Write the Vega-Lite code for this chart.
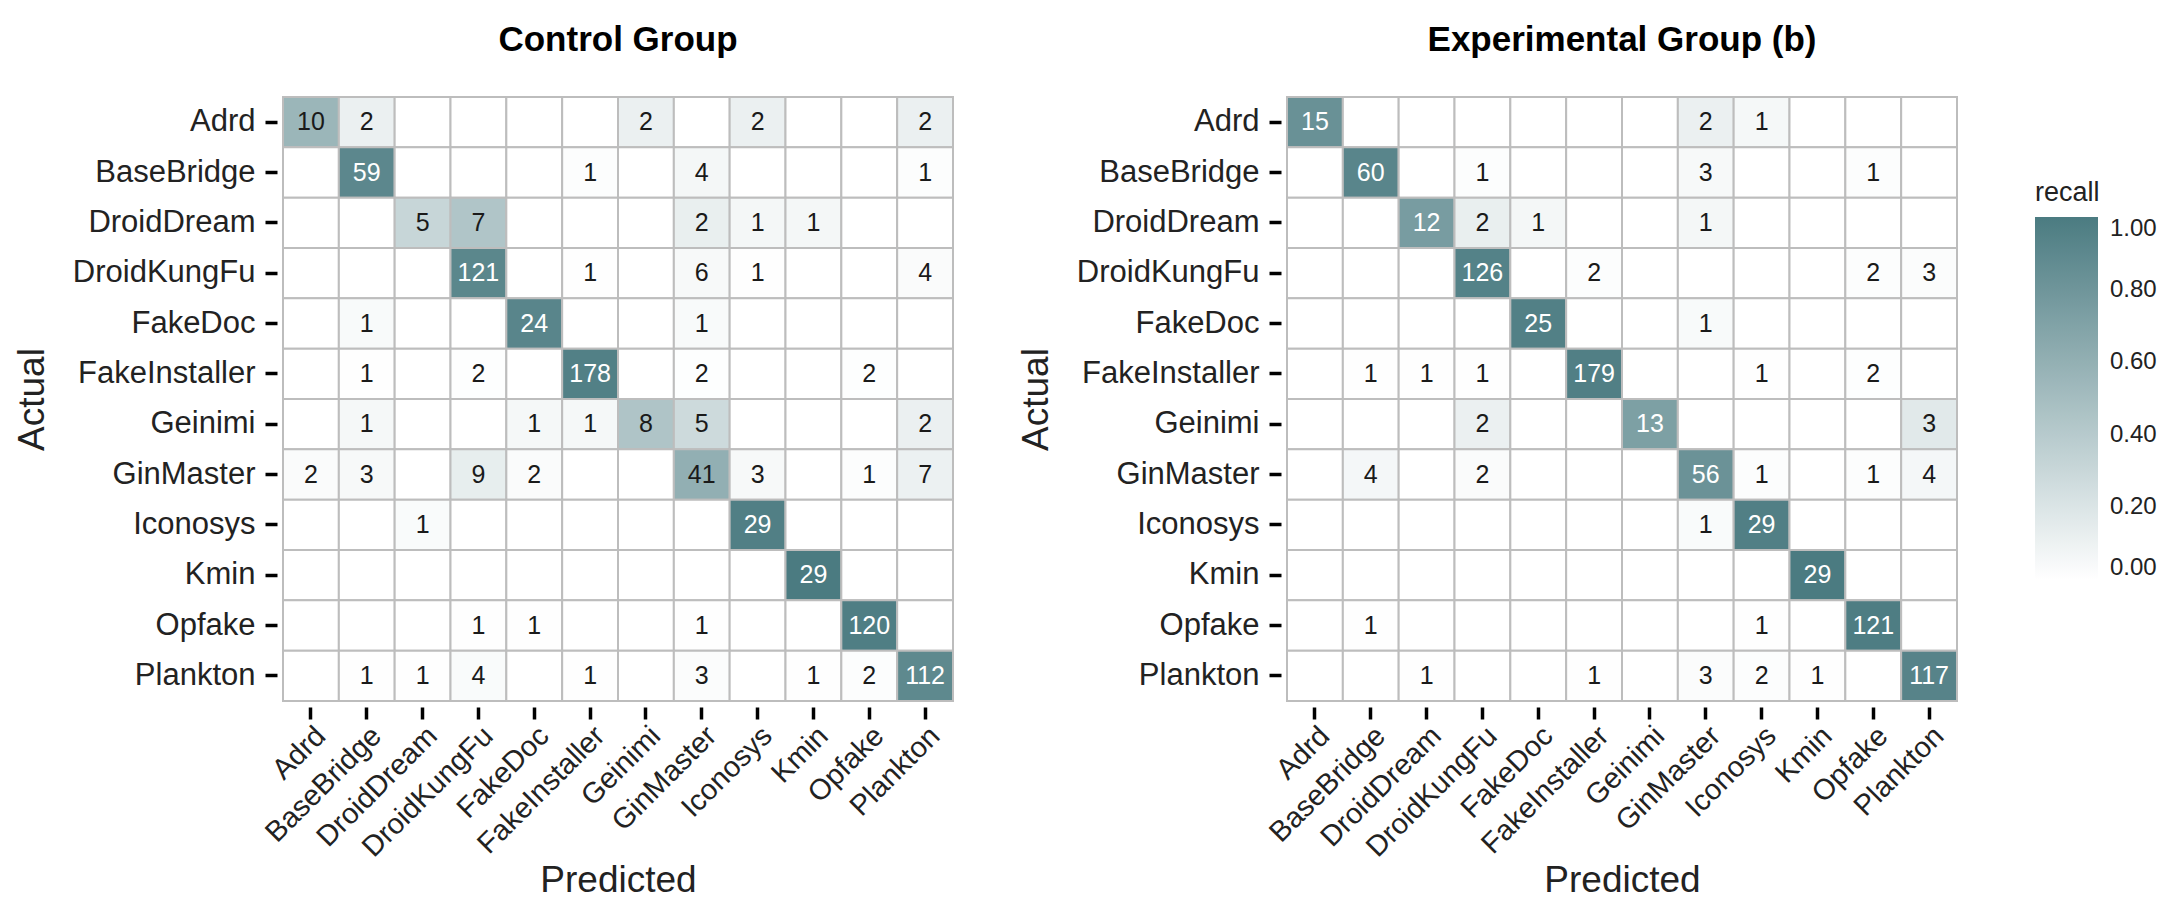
{
  "$schema": "https://vega.github.io/schema/vega-lite/v6.json",
  "padding": {"left": 13, "top": 23, "right": 5, "bottom": 5},
  "background": "white",
  "spacing": 62,
  "config": {
    "font": "Liberation Sans",
    "view": {"stroke": null},
    "axis": {
      "labelFont": "Liberation Sans",
      "labelFontSize": 31,
      "labelColor": "#222222",
      "labelLimit": 400,
      "titleFont": "Liberation Sans",
      "titleFontSize": 37,
      "titleFontWeight": "normal",
      "titleColor": "#222222",
      "domain": false,
      "grid": false,
      "tickColor": "#000000",
      "tickWidth": 3.5,
      "tickSize": 12,
      "offset": 6,
      "labelPadding": 10
    }
  },
  "data": {"values": [
    {"g":"C","a":"Adrd","p":"Adrd","n":10},{"g":"C","a":"Adrd","p":"BaseBridge","n":2},{"g":"C","a":"Adrd","p":"DroidDream","n":0},{"g":"C","a":"Adrd","p":"DroidKungFu","n":0},{"g":"C","a":"Adrd","p":"FakeDoc","n":0},{"g":"C","a":"Adrd","p":"FakeInstaller","n":0},{"g":"C","a":"Adrd","p":"Geinimi","n":2},{"g":"C","a":"Adrd","p":"GinMaster","n":0},{"g":"C","a":"Adrd","p":"Iconosys","n":2},{"g":"C","a":"Adrd","p":"Kmin","n":0},{"g":"C","a":"Adrd","p":"Opfake","n":0},{"g":"C","a":"Adrd","p":"Plankton","n":2},
    {"g":"C","a":"BaseBridge","p":"Adrd","n":0},{"g":"C","a":"BaseBridge","p":"BaseBridge","n":59},{"g":"C","a":"BaseBridge","p":"DroidDream","n":0},{"g":"C","a":"BaseBridge","p":"DroidKungFu","n":0},{"g":"C","a":"BaseBridge","p":"FakeDoc","n":0},{"g":"C","a":"BaseBridge","p":"FakeInstaller","n":1},{"g":"C","a":"BaseBridge","p":"Geinimi","n":0},{"g":"C","a":"BaseBridge","p":"GinMaster","n":4},{"g":"C","a":"BaseBridge","p":"Iconosys","n":0},{"g":"C","a":"BaseBridge","p":"Kmin","n":0},{"g":"C","a":"BaseBridge","p":"Opfake","n":0},{"g":"C","a":"BaseBridge","p":"Plankton","n":1},
    {"g":"C","a":"DroidDream","p":"Adrd","n":0},{"g":"C","a":"DroidDream","p":"BaseBridge","n":0},{"g":"C","a":"DroidDream","p":"DroidDream","n":5},{"g":"C","a":"DroidDream","p":"DroidKungFu","n":7},{"g":"C","a":"DroidDream","p":"FakeDoc","n":0},{"g":"C","a":"DroidDream","p":"FakeInstaller","n":0},{"g":"C","a":"DroidDream","p":"Geinimi","n":0},{"g":"C","a":"DroidDream","p":"GinMaster","n":2},{"g":"C","a":"DroidDream","p":"Iconosys","n":1},{"g":"C","a":"DroidDream","p":"Kmin","n":1},{"g":"C","a":"DroidDream","p":"Opfake","n":0},{"g":"C","a":"DroidDream","p":"Plankton","n":0},
    {"g":"C","a":"DroidKungFu","p":"Adrd","n":0},{"g":"C","a":"DroidKungFu","p":"BaseBridge","n":0},{"g":"C","a":"DroidKungFu","p":"DroidDream","n":0},{"g":"C","a":"DroidKungFu","p":"DroidKungFu","n":121},{"g":"C","a":"DroidKungFu","p":"FakeDoc","n":0},{"g":"C","a":"DroidKungFu","p":"FakeInstaller","n":1},{"g":"C","a":"DroidKungFu","p":"Geinimi","n":0},{"g":"C","a":"DroidKungFu","p":"GinMaster","n":6},{"g":"C","a":"DroidKungFu","p":"Iconosys","n":1},{"g":"C","a":"DroidKungFu","p":"Kmin","n":0},{"g":"C","a":"DroidKungFu","p":"Opfake","n":0},{"g":"C","a":"DroidKungFu","p":"Plankton","n":4},
    {"g":"C","a":"FakeDoc","p":"Adrd","n":0},{"g":"C","a":"FakeDoc","p":"BaseBridge","n":1},{"g":"C","a":"FakeDoc","p":"DroidDream","n":0},{"g":"C","a":"FakeDoc","p":"DroidKungFu","n":0},{"g":"C","a":"FakeDoc","p":"FakeDoc","n":24},{"g":"C","a":"FakeDoc","p":"FakeInstaller","n":0},{"g":"C","a":"FakeDoc","p":"Geinimi","n":0},{"g":"C","a":"FakeDoc","p":"GinMaster","n":1},{"g":"C","a":"FakeDoc","p":"Iconosys","n":0},{"g":"C","a":"FakeDoc","p":"Kmin","n":0},{"g":"C","a":"FakeDoc","p":"Opfake","n":0},{"g":"C","a":"FakeDoc","p":"Plankton","n":0},
    {"g":"C","a":"FakeInstaller","p":"Adrd","n":0},{"g":"C","a":"FakeInstaller","p":"BaseBridge","n":1},{"g":"C","a":"FakeInstaller","p":"DroidDream","n":0},{"g":"C","a":"FakeInstaller","p":"DroidKungFu","n":2},{"g":"C","a":"FakeInstaller","p":"FakeDoc","n":0},{"g":"C","a":"FakeInstaller","p":"FakeInstaller","n":178},{"g":"C","a":"FakeInstaller","p":"Geinimi","n":0},{"g":"C","a":"FakeInstaller","p":"GinMaster","n":2},{"g":"C","a":"FakeInstaller","p":"Iconosys","n":0},{"g":"C","a":"FakeInstaller","p":"Kmin","n":0},{"g":"C","a":"FakeInstaller","p":"Opfake","n":2},{"g":"C","a":"FakeInstaller","p":"Plankton","n":0},
    {"g":"C","a":"Geinimi","p":"Adrd","n":0},{"g":"C","a":"Geinimi","p":"BaseBridge","n":1},{"g":"C","a":"Geinimi","p":"DroidDream","n":0},{"g":"C","a":"Geinimi","p":"DroidKungFu","n":0},{"g":"C","a":"Geinimi","p":"FakeDoc","n":1},{"g":"C","a":"Geinimi","p":"FakeInstaller","n":1},{"g":"C","a":"Geinimi","p":"Geinimi","n":8},{"g":"C","a":"Geinimi","p":"GinMaster","n":5},{"g":"C","a":"Geinimi","p":"Iconosys","n":0},{"g":"C","a":"Geinimi","p":"Kmin","n":0},{"g":"C","a":"Geinimi","p":"Opfake","n":0},{"g":"C","a":"Geinimi","p":"Plankton","n":2},
    {"g":"C","a":"GinMaster","p":"Adrd","n":2},{"g":"C","a":"GinMaster","p":"BaseBridge","n":3},{"g":"C","a":"GinMaster","p":"DroidDream","n":0},{"g":"C","a":"GinMaster","p":"DroidKungFu","n":9},{"g":"C","a":"GinMaster","p":"FakeDoc","n":2},{"g":"C","a":"GinMaster","p":"FakeInstaller","n":0},{"g":"C","a":"GinMaster","p":"Geinimi","n":0},{"g":"C","a":"GinMaster","p":"GinMaster","n":41},{"g":"C","a":"GinMaster","p":"Iconosys","n":3},{"g":"C","a":"GinMaster","p":"Kmin","n":0},{"g":"C","a":"GinMaster","p":"Opfake","n":1},{"g":"C","a":"GinMaster","p":"Plankton","n":7},
    {"g":"C","a":"Iconosys","p":"Adrd","n":0},{"g":"C","a":"Iconosys","p":"BaseBridge","n":0},{"g":"C","a":"Iconosys","p":"DroidDream","n":1},{"g":"C","a":"Iconosys","p":"DroidKungFu","n":0},{"g":"C","a":"Iconosys","p":"FakeDoc","n":0},{"g":"C","a":"Iconosys","p":"FakeInstaller","n":0},{"g":"C","a":"Iconosys","p":"Geinimi","n":0},{"g":"C","a":"Iconosys","p":"GinMaster","n":0},{"g":"C","a":"Iconosys","p":"Iconosys","n":29},{"g":"C","a":"Iconosys","p":"Kmin","n":0},{"g":"C","a":"Iconosys","p":"Opfake","n":0},{"g":"C","a":"Iconosys","p":"Plankton","n":0},
    {"g":"C","a":"Kmin","p":"Adrd","n":0},{"g":"C","a":"Kmin","p":"BaseBridge","n":0},{"g":"C","a":"Kmin","p":"DroidDream","n":0},{"g":"C","a":"Kmin","p":"DroidKungFu","n":0},{"g":"C","a":"Kmin","p":"FakeDoc","n":0},{"g":"C","a":"Kmin","p":"FakeInstaller","n":0},{"g":"C","a":"Kmin","p":"Geinimi","n":0},{"g":"C","a":"Kmin","p":"GinMaster","n":0},{"g":"C","a":"Kmin","p":"Iconosys","n":0},{"g":"C","a":"Kmin","p":"Kmin","n":29},{"g":"C","a":"Kmin","p":"Opfake","n":0},{"g":"C","a":"Kmin","p":"Plankton","n":0},
    {"g":"C","a":"Opfake","p":"Adrd","n":0},{"g":"C","a":"Opfake","p":"BaseBridge","n":0},{"g":"C","a":"Opfake","p":"DroidDream","n":0},{"g":"C","a":"Opfake","p":"DroidKungFu","n":1},{"g":"C","a":"Opfake","p":"FakeDoc","n":1},{"g":"C","a":"Opfake","p":"FakeInstaller","n":0},{"g":"C","a":"Opfake","p":"Geinimi","n":0},{"g":"C","a":"Opfake","p":"GinMaster","n":1},{"g":"C","a":"Opfake","p":"Iconosys","n":0},{"g":"C","a":"Opfake","p":"Kmin","n":0},{"g":"C","a":"Opfake","p":"Opfake","n":120},{"g":"C","a":"Opfake","p":"Plankton","n":0},
    {"g":"C","a":"Plankton","p":"Adrd","n":0},{"g":"C","a":"Plankton","p":"BaseBridge","n":1},{"g":"C","a":"Plankton","p":"DroidDream","n":1},{"g":"C","a":"Plankton","p":"DroidKungFu","n":4},{"g":"C","a":"Plankton","p":"FakeDoc","n":0},{"g":"C","a":"Plankton","p":"FakeInstaller","n":1},{"g":"C","a":"Plankton","p":"Geinimi","n":0},{"g":"C","a":"Plankton","p":"GinMaster","n":3},{"g":"C","a":"Plankton","p":"Iconosys","n":0},{"g":"C","a":"Plankton","p":"Kmin","n":1},{"g":"C","a":"Plankton","p":"Opfake","n":2},{"g":"C","a":"Plankton","p":"Plankton","n":112},
    {"g":"E","a":"Adrd","p":"Adrd","n":15},{"g":"E","a":"Adrd","p":"BaseBridge","n":0},{"g":"E","a":"Adrd","p":"DroidDream","n":0},{"g":"E","a":"Adrd","p":"DroidKungFu","n":0},{"g":"E","a":"Adrd","p":"FakeDoc","n":0},{"g":"E","a":"Adrd","p":"FakeInstaller","n":0},{"g":"E","a":"Adrd","p":"Geinimi","n":0},{"g":"E","a":"Adrd","p":"GinMaster","n":2},{"g":"E","a":"Adrd","p":"Iconosys","n":1},{"g":"E","a":"Adrd","p":"Kmin","n":0},{"g":"E","a":"Adrd","p":"Opfake","n":0},{"g":"E","a":"Adrd","p":"Plankton","n":0},
    {"g":"E","a":"BaseBridge","p":"Adrd","n":0},{"g":"E","a":"BaseBridge","p":"BaseBridge","n":60},{"g":"E","a":"BaseBridge","p":"DroidDream","n":0},{"g":"E","a":"BaseBridge","p":"DroidKungFu","n":1},{"g":"E","a":"BaseBridge","p":"FakeDoc","n":0},{"g":"E","a":"BaseBridge","p":"FakeInstaller","n":0},{"g":"E","a":"BaseBridge","p":"Geinimi","n":0},{"g":"E","a":"BaseBridge","p":"GinMaster","n":3},{"g":"E","a":"BaseBridge","p":"Iconosys","n":0},{"g":"E","a":"BaseBridge","p":"Kmin","n":0},{"g":"E","a":"BaseBridge","p":"Opfake","n":1},{"g":"E","a":"BaseBridge","p":"Plankton","n":0},
    {"g":"E","a":"DroidDream","p":"Adrd","n":0},{"g":"E","a":"DroidDream","p":"BaseBridge","n":0},{"g":"E","a":"DroidDream","p":"DroidDream","n":12},{"g":"E","a":"DroidDream","p":"DroidKungFu","n":2},{"g":"E","a":"DroidDream","p":"FakeDoc","n":1},{"g":"E","a":"DroidDream","p":"FakeInstaller","n":0},{"g":"E","a":"DroidDream","p":"Geinimi","n":0},{"g":"E","a":"DroidDream","p":"GinMaster","n":1},{"g":"E","a":"DroidDream","p":"Iconosys","n":0},{"g":"E","a":"DroidDream","p":"Kmin","n":0},{"g":"E","a":"DroidDream","p":"Opfake","n":0},{"g":"E","a":"DroidDream","p":"Plankton","n":0},
    {"g":"E","a":"DroidKungFu","p":"Adrd","n":0},{"g":"E","a":"DroidKungFu","p":"BaseBridge","n":0},{"g":"E","a":"DroidKungFu","p":"DroidDream","n":0},{"g":"E","a":"DroidKungFu","p":"DroidKungFu","n":126},{"g":"E","a":"DroidKungFu","p":"FakeDoc","n":0},{"g":"E","a":"DroidKungFu","p":"FakeInstaller","n":2},{"g":"E","a":"DroidKungFu","p":"Geinimi","n":0},{"g":"E","a":"DroidKungFu","p":"GinMaster","n":0},{"g":"E","a":"DroidKungFu","p":"Iconosys","n":0},{"g":"E","a":"DroidKungFu","p":"Kmin","n":0},{"g":"E","a":"DroidKungFu","p":"Opfake","n":2},{"g":"E","a":"DroidKungFu","p":"Plankton","n":3},
    {"g":"E","a":"FakeDoc","p":"Adrd","n":0},{"g":"E","a":"FakeDoc","p":"BaseBridge","n":0},{"g":"E","a":"FakeDoc","p":"DroidDream","n":0},{"g":"E","a":"FakeDoc","p":"DroidKungFu","n":0},{"g":"E","a":"FakeDoc","p":"FakeDoc","n":25},{"g":"E","a":"FakeDoc","p":"FakeInstaller","n":0},{"g":"E","a":"FakeDoc","p":"Geinimi","n":0},{"g":"E","a":"FakeDoc","p":"GinMaster","n":1},{"g":"E","a":"FakeDoc","p":"Iconosys","n":0},{"g":"E","a":"FakeDoc","p":"Kmin","n":0},{"g":"E","a":"FakeDoc","p":"Opfake","n":0},{"g":"E","a":"FakeDoc","p":"Plankton","n":0},
    {"g":"E","a":"FakeInstaller","p":"Adrd","n":0},{"g":"E","a":"FakeInstaller","p":"BaseBridge","n":1},{"g":"E","a":"FakeInstaller","p":"DroidDream","n":1},{"g":"E","a":"FakeInstaller","p":"DroidKungFu","n":1},{"g":"E","a":"FakeInstaller","p":"FakeDoc","n":0},{"g":"E","a":"FakeInstaller","p":"FakeInstaller","n":179},{"g":"E","a":"FakeInstaller","p":"Geinimi","n":0},{"g":"E","a":"FakeInstaller","p":"GinMaster","n":0},{"g":"E","a":"FakeInstaller","p":"Iconosys","n":1},{"g":"E","a":"FakeInstaller","p":"Kmin","n":0},{"g":"E","a":"FakeInstaller","p":"Opfake","n":2},{"g":"E","a":"FakeInstaller","p":"Plankton","n":0},
    {"g":"E","a":"Geinimi","p":"Adrd","n":0},{"g":"E","a":"Geinimi","p":"BaseBridge","n":0},{"g":"E","a":"Geinimi","p":"DroidDream","n":0},{"g":"E","a":"Geinimi","p":"DroidKungFu","n":2},{"g":"E","a":"Geinimi","p":"FakeDoc","n":0},{"g":"E","a":"Geinimi","p":"FakeInstaller","n":0},{"g":"E","a":"Geinimi","p":"Geinimi","n":13},{"g":"E","a":"Geinimi","p":"GinMaster","n":0},{"g":"E","a":"Geinimi","p":"Iconosys","n":0},{"g":"E","a":"Geinimi","p":"Kmin","n":0},{"g":"E","a":"Geinimi","p":"Opfake","n":0},{"g":"E","a":"Geinimi","p":"Plankton","n":3},
    {"g":"E","a":"GinMaster","p":"Adrd","n":0},{"g":"E","a":"GinMaster","p":"BaseBridge","n":4},{"g":"E","a":"GinMaster","p":"DroidDream","n":0},{"g":"E","a":"GinMaster","p":"DroidKungFu","n":2},{"g":"E","a":"GinMaster","p":"FakeDoc","n":0},{"g":"E","a":"GinMaster","p":"FakeInstaller","n":0},{"g":"E","a":"GinMaster","p":"Geinimi","n":0},{"g":"E","a":"GinMaster","p":"GinMaster","n":56},{"g":"E","a":"GinMaster","p":"Iconosys","n":1},{"g":"E","a":"GinMaster","p":"Kmin","n":0},{"g":"E","a":"GinMaster","p":"Opfake","n":1},{"g":"E","a":"GinMaster","p":"Plankton","n":4},
    {"g":"E","a":"Iconosys","p":"Adrd","n":0},{"g":"E","a":"Iconosys","p":"BaseBridge","n":0},{"g":"E","a":"Iconosys","p":"DroidDream","n":0},{"g":"E","a":"Iconosys","p":"DroidKungFu","n":0},{"g":"E","a":"Iconosys","p":"FakeDoc","n":0},{"g":"E","a":"Iconosys","p":"FakeInstaller","n":0},{"g":"E","a":"Iconosys","p":"Geinimi","n":0},{"g":"E","a":"Iconosys","p":"GinMaster","n":1},{"g":"E","a":"Iconosys","p":"Iconosys","n":29},{"g":"E","a":"Iconosys","p":"Kmin","n":0},{"g":"E","a":"Iconosys","p":"Opfake","n":0},{"g":"E","a":"Iconosys","p":"Plankton","n":0},
    {"g":"E","a":"Kmin","p":"Adrd","n":0},{"g":"E","a":"Kmin","p":"BaseBridge","n":0},{"g":"E","a":"Kmin","p":"DroidDream","n":0},{"g":"E","a":"Kmin","p":"DroidKungFu","n":0},{"g":"E","a":"Kmin","p":"FakeDoc","n":0},{"g":"E","a":"Kmin","p":"FakeInstaller","n":0},{"g":"E","a":"Kmin","p":"Geinimi","n":0},{"g":"E","a":"Kmin","p":"GinMaster","n":0},{"g":"E","a":"Kmin","p":"Iconosys","n":0},{"g":"E","a":"Kmin","p":"Kmin","n":29},{"g":"E","a":"Kmin","p":"Opfake","n":0},{"g":"E","a":"Kmin","p":"Plankton","n":0},
    {"g":"E","a":"Opfake","p":"Adrd","n":0},{"g":"E","a":"Opfake","p":"BaseBridge","n":1},{"g":"E","a":"Opfake","p":"DroidDream","n":0},{"g":"E","a":"Opfake","p":"DroidKungFu","n":0},{"g":"E","a":"Opfake","p":"FakeDoc","n":0},{"g":"E","a":"Opfake","p":"FakeInstaller","n":0},{"g":"E","a":"Opfake","p":"Geinimi","n":0},{"g":"E","a":"Opfake","p":"GinMaster","n":0},{"g":"E","a":"Opfake","p":"Iconosys","n":1},{"g":"E","a":"Opfake","p":"Kmin","n":0},{"g":"E","a":"Opfake","p":"Opfake","n":121},{"g":"E","a":"Opfake","p":"Plankton","n":0},
    {"g":"E","a":"Plankton","p":"Adrd","n":0},{"g":"E","a":"Plankton","p":"BaseBridge","n":0},{"g":"E","a":"Plankton","p":"DroidDream","n":1},{"g":"E","a":"Plankton","p":"DroidKungFu","n":0},{"g":"E","a":"Plankton","p":"FakeDoc","n":0},{"g":"E","a":"Plankton","p":"FakeInstaller","n":1},{"g":"E","a":"Plankton","p":"Geinimi","n":0},{"g":"E","a":"Plankton","p":"GinMaster","n":3},{"g":"E","a":"Plankton","p":"Iconosys","n":2},{"g":"E","a":"Plankton","p":"Kmin","n":1},{"g":"E","a":"Plankton","p":"Opfake","n":0},{"g":"E","a":"Plankton","p":"Plankton","n":117}
  ]},
  "transform": [
    {"joinaggregate": [{"op": "sum", "field": "n", "as": "tot"}], "groupby": ["g", "a"]},
    {"calculate": "datum.n / datum.tot", "as": "recall"}
  ],
  "hconcat": [
    {
      "width": 670,
      "height": 604,
      "title": {"text": "Control Group", "font": "Liberation Sans", "fontSize": 35, "fontWeight": "bold", "color": "#000000", "anchor": "middle", "frame": "group", "offset": 38},
      "transform": [{"filter": "datum.g === 'C'"}],
      "encoding": {
        "x": {"field": "p", "type": "nominal", "sort": ["Adrd","BaseBridge","DroidDream","DroidKungFu","FakeDoc","FakeInstaller","Geinimi","GinMaster","Iconosys","Kmin","Opfake","Plankton"], "scale": {"paddingInner": 0, "paddingOuter": 0}, "axis": {"title": "Predicted", "labelAngle": -45, "labelFontSize": 29, "labelPadding": 2, "titlePadding": 0}},
        "y": {"field": "a", "type": "nominal", "sort": ["Adrd","BaseBridge","DroidDream","DroidKungFu","FakeDoc","FakeInstaller","Geinimi","GinMaster","Iconosys","Kmin","Opfake","Plankton"], "scale": {"paddingInner": 0, "paddingOuter": 0}, "axis": {"title": "Actual", "titlePadding": 26}}
      },
      "layer": [
        {"mark": {"type": "rect", "stroke": "#bdbdbd", "strokeWidth": 2}, "encoding": {"color": {"field": "recall", "type": "quantitative", "scale": {"domain": [0, 1], "range": ["#ffffff", "#4b7b81"], "interpolate": "rgb"}, "legend": {"title": "recall", "orient": "none", "direction": "vertical", "legendX": 1752, "legendY": 83, "gradientLength": 363, "gradientThickness": 63, "gradientStrokeWidth": 0, "labelFontSize": 24, "labelFont": "Liberation Sans", "labelColor": "#222222", "labelOffset": 12, "titleFontSize": 27, "titleFont": "Liberation Sans", "titleFontWeight": "normal", "titleColor": "#222222", "titlePadding": 10, "format": ".2f", "values": [0, 0.2, 0.4, 0.6, 0.8, 1]}}}},
        {"transform": [{"filter": "datum.n > 0"}], "mark": {"type": "text", "fontSize": 25, "font": "Liberation Sans"}, "encoding": {"text": {"field": "n", "type": "quantitative"}, "color": {"condition": {"test": "datum.recall > 0.7", "value": "#ffffff"}, "value": "#1a1a1a"}}}
      ]
    },
    {
      "width": 670,
      "height": 604,
      "title": {"text": "Experimental Group (b)", "font": "Liberation Sans", "fontSize": 35, "fontWeight": "bold", "color": "#000000", "anchor": "middle", "frame": "group", "offset": 38},
      "transform": [{"filter": "datum.g === 'E'"}],
      "encoding": {
        "x": {"field": "p", "type": "nominal", "sort": ["Adrd","BaseBridge","DroidDream","DroidKungFu","FakeDoc","FakeInstaller","Geinimi","GinMaster","Iconosys","Kmin","Opfake","Plankton"], "scale": {"paddingInner": 0, "paddingOuter": 0}, "axis": {"title": "Predicted", "labelAngle": -45, "labelFontSize": 29, "labelPadding": 2, "titlePadding": 0}},
        "y": {"field": "a", "type": "nominal", "sort": ["Adrd","BaseBridge","DroidDream","DroidKungFu","FakeDoc","FakeInstaller","Geinimi","GinMaster","Iconosys","Kmin","Opfake","Plankton"], "scale": {"paddingInner": 0, "paddingOuter": 0}, "axis": {"title": "Actual", "titlePadding": 26}}
      },
      "layer": [
        {"mark": {"type": "rect", "stroke": "#bdbdbd", "strokeWidth": 2}, "encoding": {"color": {"field": "recall", "type": "quantitative", "scale": {"domain": [0, 1], "range": ["#ffffff", "#4b7b81"], "interpolate": "rgb"}, "legend": {"title": "recall", "orient": "none", "direction": "vertical", "legendX": 1752, "legendY": 83, "gradientLength": 363, "gradientThickness": 63, "gradientStrokeWidth": 0, "labelFontSize": 24, "labelFont": "Liberation Sans", "labelColor": "#222222", "labelOffset": 12, "titleFontSize": 27, "titleFont": "Liberation Sans", "titleFontWeight": "normal", "titleColor": "#222222", "titlePadding": 10, "format": ".2f", "values": [0, 0.2, 0.4, 0.6, 0.8, 1]}}}},
        {"transform": [{"filter": "datum.n > 0"}], "mark": {"type": "text", "fontSize": 25, "font": "Liberation Sans"}, "encoding": {"text": {"field": "n", "type": "quantitative"}, "color": {"condition": {"test": "datum.recall > 0.7", "value": "#ffffff"}, "value": "#1a1a1a"}}}
      ]
    }
  ],
  "resolve": {"scale": {"color": "shared"}}
}
